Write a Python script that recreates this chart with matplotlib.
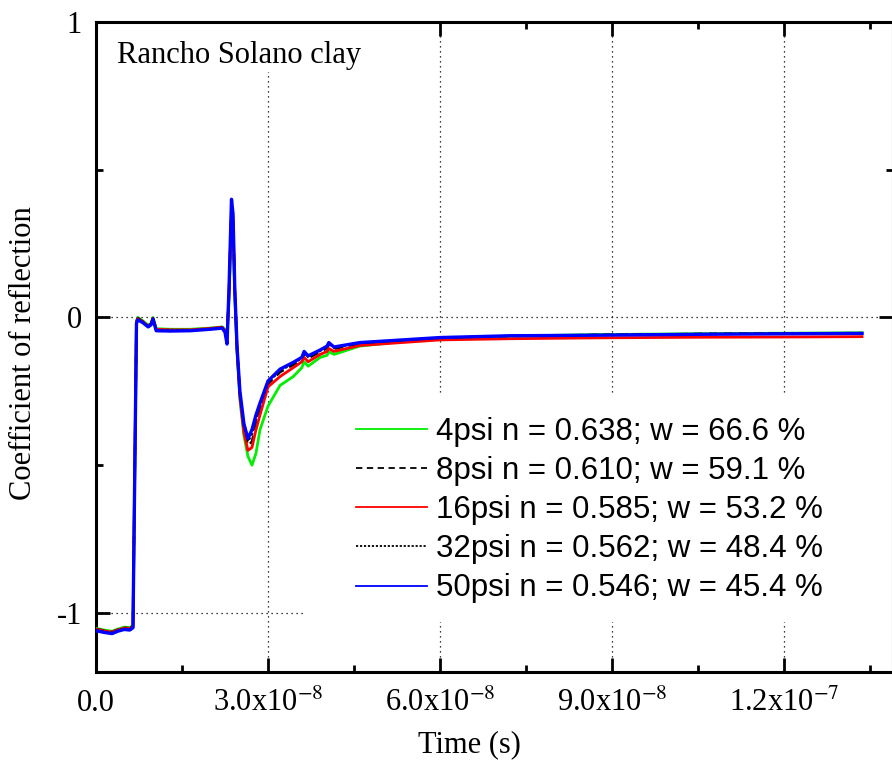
# Coefficient of reflection vs time, Rancho Solano clay

import matplotlib
matplotlib.use('Agg')
import matplotlib.pyplot as plt
from matplotlib.patches import Rectangle
from matplotlib.ticker import MultipleLocator
import numpy as np

plt.rcParams['font.family'] = ['Liberation Serif', 'DejaVu Serif']
plt.rcParams['mathtext.fontset'] = 'stix'

# time samples in ns
t_ns = [0.0, 1.4, 2.8, 3.8, 4.9, 5.9, 6.45, 7.06, 7.3, 8.2, 9.1, 9.6, 9.94, 10.5,
        12.9, 16.4, 19.9, 22.0, 22.5, 22.85, 23.2, 23.63, 23.9, 24.2, 24.6, 25.1,
        25.8, 26.5, 27.2, 27.9, 28.6, 30.0, 32.1, 34.4, 35.9, 36.3, 37.0, 39.1,
        40.3, 40.6, 41.5, 46.0, 51.8, 60.0, 72.2, 87.9, 105.3, 122.8, 133.6]

r_4psi = [-1.052, -1.058, -1.062, -1.055, -1.048, -1.050, -1.042, -0.010, 0.000, -0.012,
          -0.026, -0.020, 0.000, -0.038, -0.040, -0.040, -0.036, -0.032, -0.040, -0.060,
          0.060, 0.320, 0.300, 0.080, -0.120, -0.280, -0.400, -0.470, -0.500, -0.460,
          -0.380, -0.300, -0.230, -0.200, -0.170, -0.150, -0.165, -0.135, -0.128, -0.115,
          -0.125, -0.097, -0.085, -0.071, -0.063, -0.058, -0.055, -0.053, -0.052]
r_8psi = [-1.054, -1.060, -1.064, -1.057, -1.050, -1.052, -1.044, -0.012, -0.002, -0.014,
          -0.028, -0.021, -0.002, -0.041, -0.043, -0.043, -0.038, -0.034, -0.046, -0.075,
          0.090, 0.380, 0.330, 0.095, -0.105, -0.260, -0.380, -0.435, -0.420, -0.360,
          -0.310, -0.225, -0.185, -0.160, -0.142, -0.122, -0.138, -0.116, -0.104, -0.092,
          -0.106, -0.089, -0.080, -0.070, -0.063, -0.059, -0.056, -0.054, -0.053]
r_16psi = [-1.055, -1.061, -1.065, -1.058, -1.051, -1.053, -1.046, -0.014, -0.004, -0.015,
           -0.029, -0.022, -0.003, -0.040, -0.042, -0.042, -0.037, -0.033, -0.044, -0.070,
           0.080, 0.360, 0.320, 0.090, -0.110, -0.270, -0.390, -0.450, -0.440, -0.380,
           -0.330, -0.235, -0.200, -0.170, -0.150, -0.135, -0.150, -0.125, -0.115, -0.105,
           -0.115, -0.095, -0.087, -0.076, -0.072, -0.069, -0.067, -0.066, -0.065]
r_32psi = [-1.057, -1.063, -1.067, -1.060, -1.053, -1.055, -1.047, -0.016, -0.005, -0.016,
           -0.030, -0.023, -0.004, -0.043, -0.044, -0.044, -0.039, -0.035, -0.048, -0.085,
           0.095, 0.390, 0.340, 0.098, -0.100, -0.255, -0.370, -0.420, -0.395, -0.345,
           -0.300, -0.220, -0.180, -0.156, -0.138, -0.118, -0.134, -0.113, -0.100, -0.088,
           -0.103, -0.087, -0.079, -0.069, -0.062, -0.059, -0.056, -0.054, -0.053]
r_50psi = [-1.060, -1.066, -1.070, -1.062, -1.056, -1.058, -1.050, -0.020, -0.008, -0.018,
           -0.032, -0.025, -0.005, -0.045, -0.046, -0.045, -0.040, -0.036, -0.050, -0.090,
           0.100, 0.400, 0.350, 0.100, -0.100, -0.250, -0.360, -0.410, -0.380, -0.330,
           -0.290, -0.215, -0.175, -0.152, -0.135, -0.115, -0.130, -0.110, -0.097, -0.085,
           -0.100, -0.085, -0.078, -0.068, -0.062, -0.060, -0.057, -0.055, -0.054]

labels = ['4psi n = 0.638; w = 66.6 %',
          '8psi n = 0.610; w = 59.1 %',
          '16psi n = 0.585; w = 53.2 %',
          '32psi n = 0.562; w = 48.4 %',
          '50psi n = 0.546; w = 45.4 %']

xtick_vals = [0.0, 3.0e-8, 6.0e-8, 9.0e-8, 1.2e-7]
xtick_labels = ['0.0', r'3.0x10$^{-8}$', r'6.0x10$^{-8}$', r'9.0x10$^{-8}$', r'1.2x10$^{-7}$']
ytick_vals = [-1, 0, 1]
ytick_labels = ['-1', '0', '1']

fig = plt.figure(figsize=(8.92, 7.70), dpi=100)
ax = fig.add_axes([96 / 892, 98 / 770, 797 / 892, 650 / 770])

t = np.array(t_ns) * 1e-9
styles = [
    dict(color='#00ee00', lw=2.0, ls='-'),
    dict(color='black', lw=1.8, ls=(0, (3.5, 2.5))),
    dict(color='#ff0000', lw=2.0, ls='-'),
    dict(color='black', lw=1.6, ls=(0, (1.2, 1.0))),
    dict(color='#0000ff', lw=2.4, ls='-'),
]
series = [r_4psi, r_8psi, r_16psi, r_32psi, r_50psi]
for vals, lab, st in zip(series, labels, styles):
    ax.plot(t, vals, label=lab, zorder=3, **st)

ax.set_xlim(0, 1.39e-7)
ax.set_ylim(-1.2, 1.0)

# dotted grid at major ticks
grid_kw = dict(color='black', lw=0.9, ls=(0, (1, 3)), zorder=1)
for xv in xtick_vals[1:]:
    ax.axvline(xv, **grid_kw)
for yv in [-1, 0]:
    ax.axhline(yv, **grid_kw)

# white boxes behind the caption and legend hide the grid
ax.add_patch(Rectangle((0.005, 0.923), 0.37, 0.076, transform=ax.transAxes,
                       facecolor='white', edgecolor='none', zorder=2))
ax.add_patch(Rectangle((0.26, 0.077), 0.75, 0.349, transform=ax.transAxes,
                       facecolor='white', edgecolor='none', zorder=2))

ax.text(0.026, 0.937, 'Rancho Solano clay', transform=ax.transAxes,
        fontsize=22, va='baseline', ha='left', zorder=4)

ax.set_xticks(xtick_vals)
ax.set_xticklabels(xtick_labels)
ax.set_yticks(ytick_vals)
ax.set_yticklabels(ytick_labels)
ax.xaxis.set_minor_locator(MultipleLocator(1.5e-8))
ax.yaxis.set_minor_locator(MultipleLocator(0.5))
ax.tick_params(which='both', direction='in', top=True, right=True, width=2, labelsize=22)
ax.tick_params(axis='x', which='major', length=10, pad=12)
ax.tick_params(axis='y', which='major', length=10, pad=10)
ax.tick_params(which='minor', length=5)
for sp in ax.spines.values():
    sp.set_linewidth(2.2)

ax.set_xlabel('Time (s)', fontsize=22)
ax.xaxis.set_label_coords(0.469, -0.09)
ax.set_ylabel('Coefficient of reflection', fontsize=22)
ax.yaxis.set_label_coords(-0.073, 0.49)

leg = ax.legend(loc='upper left', bbox_to_anchor=(0.326, 0.392), frameon=False,
                prop={'family': 'Liberation Sans', 'size': 22.5}, handlelength=2.27,
                handletextpad=0.29, labelspacing=0.29, borderpad=0, borderaxespad=0)
leg.set_zorder(5)
for line in leg.get_lines():
    line.set_linewidth(1.3)

fig.savefig('out.png', dpi=100)
